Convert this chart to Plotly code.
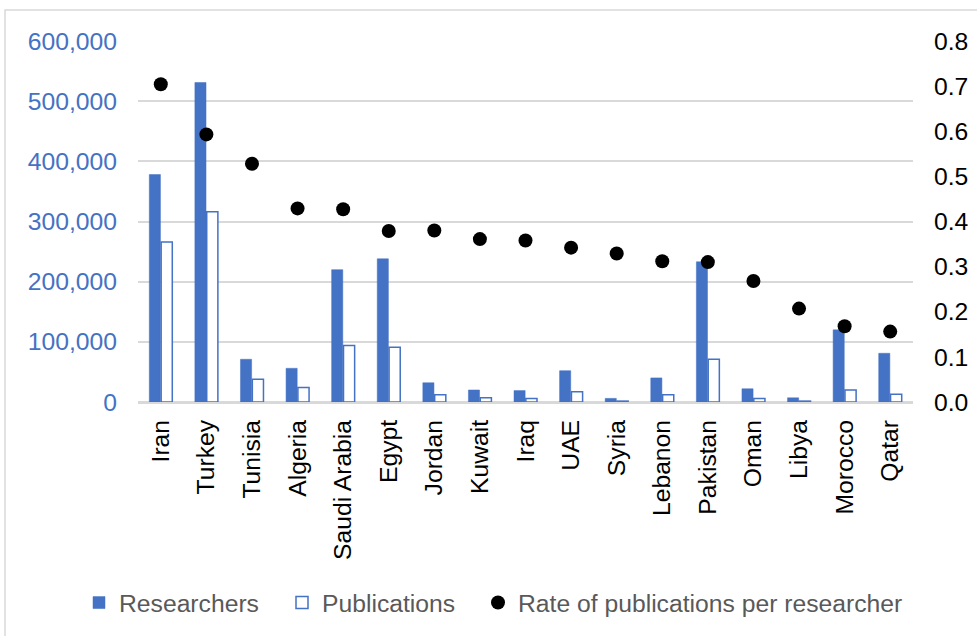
import plotly.graph_objects as go

countries = ["Iran", "Turkey", "Tunisia", "Algeria", "Saudi Arabia", "Egypt", "Jordan",
             "Kuwait", "Iraq", "UAE", "Syria", "Lebanon", "Pakistan", "Oman", "Libya",
             "Morocco", "Qatar"]
researchers = [378000, 531000, 71000, 56000, 220000, 238000, 32000, 20000, 19000, 52000,
               6000, 40000, 233000, 22000, 7000, 120000, 81000]
publications = [266000, 316000, 38000, 24000, 94000, 91000, 12000, 7200, 6000, 17000,
                1500, 12000, 71000, 5900, 1500, 20000, 13000]
rate = [0.704, 0.593, 0.528, 0.429, 0.427, 0.379, 0.380, 0.361, 0.358, 0.342, 0.329,
        0.312, 0.310, 0.268, 0.207, 0.168, 0.156]

BLUE = "#4472C4"
FONT = "Liberation Sans, Arial, sans-serif"
FS = 24.7

W, H = 977, 636
L, R, T, B = 138, 64, 41, 233
PW, PH = W - L - R, H - T - B


def px_x(p):
    return (p - L) / PW


def px_y(p):
    return (H - B - p) / PH


fig = go.Figure()
fig.add_trace(go.Bar(x=countries, y=researchers, name="Researchers", legend="legend",
                     marker=dict(color=BLUE, line=dict(color=BLUE, width=0.5))))
fig.add_trace(go.Bar(x=countries, y=publications, name="Publications", legend="legend2",
                     marker=dict(color="white", line=dict(color=BLUE, width=1.5))))
fig.add_trace(go.Scatter(x=countries, y=rate, name="Rate of publications per researcher",
                         mode="markers", yaxis="y2", legend="legend3",
                         marker=dict(color="black", size=14)))

leg_common = dict(orientation="h", xanchor="left", y=px_y(603), yanchor="middle",
                  font=dict(size=FS, color="#595959"), itemwidth=30,
                  bgcolor="rgba(0,0,0,0)")

fig.update_layout(
    width=W, height=H,
    margin=dict(l=L, r=R, t=T, b=B),
    paper_bgcolor="white", plot_bgcolor="white",
    font=dict(family=FONT, size=FS, color="black"),
    barmode="group", bargap=0.48, bargroupgap=0.06,
    showlegend=True,
    legend=dict(x=px_x(79), **leg_common),
    legend2=dict(x=px_x(282), **leg_common),
    legend3=dict(x=px_x(478), **leg_common),
    xaxis=dict(range=[-0.5, 16.5], tickangle=-90, showgrid=False, showline=False, ticks="",
               tickfont=dict(size=FS, color="black"), ticklabelstandoff=12, automargin=False),
    yaxis=dict(range=[0, 600000], dtick=100000, tickformat=",", showgrid=True,
               gridcolor="#D9D9D9", gridwidth=1.5, zeroline=True, zerolinecolor="#D9D9D9",
               zerolinewidth=2.5, tickfont=dict(size=FS, color=BLUE), ticks="",
               ticklabelstandoff=20, automargin=False),
    yaxis2=dict(range=[0, 0.8], dtick=0.1, tickformat=".1f", overlaying="y", side="right",
                showgrid=False, zeroline=False, tickfont=dict(size=FS, color="black"),
                ticks="", ticklabelstandoff=20, automargin=False),
    shapes=[dict(type="rect", xref="paper", yref="paper",
                 x0=px_x(5), x1=px_x(990), y0=px_y(650), y1=px_y(10),
                 line=dict(color="#D9D9D9", width=1.5), fillcolor="rgba(0,0,0,0)",
                 layer="below")],
)

fig.write_html(
    "out.html",
    config={"displayModeBar": False},
    post_script="document.documentElement.style.margin='0';"
                "document.body.style.margin='0';document.body.style.padding='0';"
                "document.body.style.overflow='hidden';",
)
